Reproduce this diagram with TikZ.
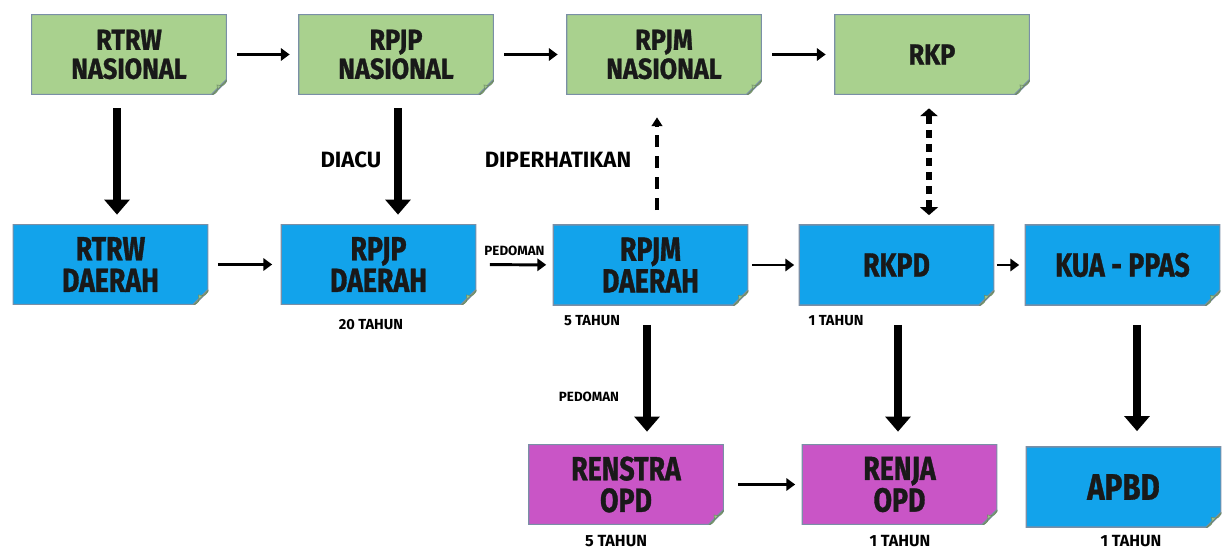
\documentclass[tikz,border=0pt]{standalone}
\usepackage{fontspec}
\setmainfont{Fira Sans}
\newfontfamily\notefont{Fira Sans}[FakeStretch=0.8, FakeBold=1]
\newfontfamily\widenotefont{Fira Sans}[FakeStretch=0.87, FakeBold=1]
\usetikzlibrary{arrows.meta,positioning,calc}
\definecolor{greenNote}{HTML}{A9D18E}
\definecolor{blueNote}{HTML}{12A3EB}
\definecolor{pinkNote}{HTML}{C955C6}
\definecolor{foldNote}{HTML}{9CC38C}
\definecolor{edgeNote}{HTML}{7A8FA6}

\begin{document}
\begin{tikzpicture}[x=0.02cm, y=-0.02cm,
    note/.style={
        fill=#1, minimum width=3.92cm, minimum height=1.62cm,
        inner sep=0pt, align=center, text=black!90,
        font=\notefont\bfseries\fontsize{19}{18}\selectfont,
        path picture={
            \fill[white] ($(path picture bounding box.south east)+(-15,0)$) -- (path picture bounding box.south east)
                -- ($(path picture bounding box.south east)+(0,-15)$) -- cycle;
            \draw[edgeNote, line width=1.4pt] (path picture bounding box.north west) -- (path picture bounding box.north east)
                -- ($(path picture bounding box.south east)+(0,-15)$) -- ($(path picture bounding box.south east)+(-15,0)$)
                -- (path picture bounding box.south west) -- cycle;
            \fill[foldNote, draw=foldNote!70!black, line width=0.3pt] ($(path picture bounding box.south east)+(-15,0)$)
                .. controls ($(path picture bounding box.south east)+(-9,-3)$) .. ($(path picture bounding box.south east)+(-10,-10)$)
                .. controls ($(path picture bounding box.south east)+(-3,-9)$) .. ($(path picture bounding box.south east)+(0,-15)$) -- cycle;
        }
    },
    toprow/.style={font=\widenotefont\bfseries\fontsize{16.5}{16.5}\selectfont},
    lowrow/.style={font=\notefont\bfseries\fontsize{19}{18}\selectfont},
    bigrow/.style={font=\notefont\bfseries\fontsize{21}{16}\selectfont},
    thinarrow/.style={line width=1.7pt, -{Triangle[length=5pt, width=7pt]}},
    thickarrow/.style={line width=4.5pt, -{Triangle[length=8.5pt, width=14pt]}},
    dashedarrow/.style={line width=1.8pt, dash pattern=on 7pt off 5pt, -{Triangle[length=5pt, width=6pt]}},
    dottedarrow/.style={line width=3.6pt, dash pattern=on 4.6pt off 3.4pt,
        {Triangle[length=4.5pt, width=10pt]}-{Triangle[length=4.5pt, width=10pt]}},
    lbl/.style={font=\bfseries\fontsize{12.6}{14}\selectfont},
    smalllbl/.style={font=\bfseries\fontsize{7.6}{9}\selectfont},
    tahun/.style={inner sep=0pt, font=\bfseries\fontsize{8.3}{9}\selectfont},
    tahunbig/.style={inner sep=0pt, font=\bfseries\fontsize{9.2}{10}\selectfont}
]
\useasboundingbox (0,0) rectangle (1227,550);

% national level
\node[note=greenNote, toprow] (rtrwN) at (129,54.5) {RTRW\\NASIONAL};
\node[note=greenNote, toprow] (rpjpN) at (396,54.5) {RPJP\\NASIONAL};
\node[note=greenNote, toprow] (rpjmN) at (664,54.5) {RPJM\\NASIONAL};
\node[note=greenNote, toprow] (rkp) at (932,54.5) {RKP};

% regional level
\node[note=blueNote] (rtrwD) at (110.5,264.5) {RTRW\\DAERAH};
\node[note=blueNote] (rpjpD) at (378.5,264.5) {RPJP\\DAERAH};
\node[note=blueNote] (rpjmD) at (650.5,265) {RPJM\\DAERAH};
\node[note=blueNote] (rkpd) at (896.5,265) {RKPD};
\node[note=blueNote] (kua) at (1122.5,265) {KUA - PPAS};

% OPD level
\node[note=pinkNote, lowrow] (renstra) at (626,484.5) {RENSTRA\\OPD};
\node[note=pinkNote, lowrow] (renja) at (899.5,484.5) {RENJA\\OPD};
\node[note=blueNote, bigrow] (apbd) at (1123.5,487) {APBD};

% horizontal links
\draw[thinarrow, shorten <=10*0.02cm, shorten >=8*0.02cm] (rtrwN) -- (rpjpN);
\draw[thinarrow, shorten <=10*0.02cm, shorten >=8*0.02cm] (rpjpN) -- (rpjmN);
\draw[thinarrow, shorten <=10*0.02cm, shorten >=8*0.02cm] (rpjmN) -- (rkp);
\draw[thinarrow, shorten <=9*0.02cm, shorten >=8*0.02cm] (rtrwD) -- (rpjpD);
\draw[thinarrow, shorten <=13*0.02cm, shorten >=6*0.02cm] (rpjpD) -- node[smalllbl, above=1pt] (pedomanH) {PEDOMAN} (rpjmD);
\draw[thinarrow, shorten <=3*0.02cm, shorten >=4*0.02cm] (rpjmD) -- (rkpd);
\draw[thinarrow, shorten <=2*0.02cm, shorten >=5*0.02cm] (rkpd) -- (kua);
\draw[thinarrow, shorten <=14*0.02cm, shorten >=6*0.02cm] (renstra) -- (renja);

% vertical links
\draw[thickarrow, shorten <=13*0.02cm, shorten >=9*0.02cm]
    ($(rtrwN.south)+(-12,0)$) -- ($(rtrwN.south |- rtrwD.north)+(-12,0)$);
\draw[thickarrow, shorten <=13*0.02cm, shorten >=9*0.02cm]
    ($(rpjpN.south)+(2,0)$) -- node[lbl, left=4pt] (diacu) {DIACU} ($(rpjpN.south |- rpjpD.north)+(2,0)$);
\draw[dashedarrow, shorten <=14*0.02cm, shorten >=22*0.02cm]
    ($(rpjmD.north)+(6.5,0)$) -- ($(rpjmD.north |- rpjmN.south)+(6.5,0)$);
\node[lbl] (diperhatikan) at (558,160) {DIPERHATIKAN};
\draw[dottedarrow, shorten <=13*0.02cm, shorten >=9*0.02cm]
    ($(rkp.south)+(-3,0)$) -- ($(rkp.south |- rkpd.north)+(-3,0)$);
\draw[thickarrow, shorten <=19*0.02cm, shorten >=12*0.02cm]
    ($(rpjmD.south)+(-3.5,0)$) -- ($(rpjmD.south |- renstra.north)+(-3.5,0)$);
\node[smalllbl] (pedomanV) at (589,397) {PEDOMAN};
\draw[thickarrow, shorten <=19*0.02cm, shorten >=12*0.02cm]
    ($(rkpd.south)+(1.5,0)$) -- ($(rkpd.south |- renja.north)+(1.5,0)$);
\draw[thickarrow, shorten <=19*0.02cm, shorten >=15*0.02cm]
    ($(kua.south)+(14.5,0)$) -- ($(kua.south |- apbd.north)+(14.5,0)$);

% durations
\node[tahun] (t20) at (371,325) {20 TAHUN};
\node[tahun] (t5a) at (592,321) {5 TAHUN};
\node[tahun] (t1a) at (836,321) {1 TAHUN};
\node[tahunbig] (t5b) at (616,541) {5 TAHUN};
\node[tahunbig] (t1b) at (900,541) {1 TAHUN};
\node[tahunbig] (t1c) at (1131,541) {1 TAHUN};
\end{tikzpicture}
\end{document}
